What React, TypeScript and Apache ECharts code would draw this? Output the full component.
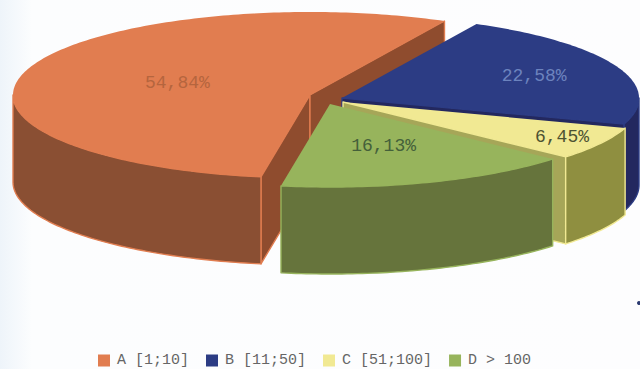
import React, { useEffect, useRef } from "react";
import * as echarts from "echarts";

// Share of each size class, in percent, clockwise from the front of the pie.
const classNames = ["A [1;10]", "B [11;50]", "C [51;100]", "D > 100"];
const shares = [54.84, 22.58, 6.45, 16.13];

const topColors = ["#E17D50", "#2C3C84", "#F1E993", "#97B45C"];
const curveColors = ["#8A4F33", "#23285F", "#8F8F40", "#66743C"];
const wallColors = ["#8F4C2E", "#23285F", "#A6A658", "#66743C"];
const labelColors = ["#B5653E", "#6C83BE", "#4C5232", "#44603A"];

// Pie projection and how far each wedge is pulled out of the pie.
const RX = 297;
const RY = 83;
const DEPTH = 87;
const START_ANGLE = 260.5;
const centers = [
  [310, 95],
  [342, 98],
  [343, 102],
  [330, 104],
];
const labelRadius = [0.47, 0.7, 0.85, 0.54];

const rad = (d: number) => (d * Math.PI) / 180;

function rim(cx: number, cy: number, deg: number, drop = 0): number[] {
  return [cx + RX * Math.cos(rad(deg)), cy - RY * Math.sin(rad(deg)) + drop];
}

function arcPoints(cx: number, cy: number, from: number, to: number, drop = 0) {
  const steps = Math.max(2, Math.ceil(Math.abs(from - to)));
  const pts: number[][] = [];
  for (let i = 0; i <= steps; i++) {
    pts.push(rim(cx, cy, from + ((to - from) * i) / steps, drop));
  }
  return pts;
}

function renderWedge(index: number, api: any) {
  const total = shares.reduce((a, b) => a + b, 0);
  const before = shares.slice(0, index).reduce((a, b) => a + b, 0);
  const a0 = START_ANGLE - (before / total) * 360;
  const a1 = a0 - (api.value(0) / total) * 360;
  const [cx, cy] = centers[index];
  const edge = { stroke: topColors[index], lineWidth: 1.4, lineJoin: "round" };
  const children: any[] = [];

  // Radial cut faces, only those that look towards the viewer.
  const wall = (deg: number) => {
    const p = rim(cx, cy, deg);
    children.push({
      type: "polygon",
      shape: { points: [[cx, cy], p, [p[0], p[1] + DEPTH], [cx, cy + DEPTH]] },
      style: { fill: wallColors[index], ...edge },
    });
  };
  if (Math.cos(rad(a0)) < 0) wall(a0);
  if (Math.cos(rad(a1)) > 0) wall(a1);

  // Outer curved side: the part of the rim on the front half of the ellipse.
  const norm = (d: number) => d - 360 * Math.floor(d / 360);
  const spans: number[][] = [];
  for (let k = -1; k <= 1; k++) {
    const hi = Math.min(a0, 360 + 360 * k);
    const lo = Math.max(a1, 180 + 360 * k);
    if (hi > lo) spans.push([hi, lo]);
  }
  for (const [hi, lo] of spans) {
    if (norm((hi + lo) / 2) < 180) continue;
    children.push({
      type: "polygon",
      shape: {
        points: [
          ...arcPoints(cx, cy, hi, lo),
          ...arcPoints(cx, cy, lo, hi, DEPTH),
        ],
      },
      style: { fill: curveColors[index], ...edge },
    });
  }

  // Top face.
  children.push({
    type: "polygon",
    shape: { points: [[cx, cy], ...arcPoints(cx, cy, a0, a1)] },
    style: { fill: topColors[index] },
  });

  // Percentage label, placed along the bisector of the wedge.
  const mid = (a0 + a1) / 2;
  const f = labelRadius[index];
  children.push({
    type: "text",
    style: {
      text: api.value(0).toFixed(2).replace(".", ",") + "%",
      x: cx + RX * f * Math.cos(rad(mid)),
      y: cy - RY * f * Math.sin(rad(mid)),
      fill: labelColors[index],
      font: '18px "Liberation Mono"',
      align: "center",
      verticalAlign: "middle",
    },
  });

  return { type: "group", children };
}

export default function App() {
  const ref = useRef<HTMLDivElement>(null);

  useEffect(() => {
    const chart = echarts.init(ref.current!, null, { renderer: "svg" });
    chart.setOption({
      animation: false,
      backgroundColor: new echarts.graphic.LinearGradient(0, 0, 1, 0, [
        { offset: 0, color: "#EEF4FA" },
        { offset: 0.05, color: "#FCFDFE" },
        { offset: 1, color: "#FDFDFE" },
      ]),
      legend: {
        left: 98,
        top: 353,
        padding: 0,
        itemWidth: 12,
        itemHeight: 12,
        itemGap: 17,
        icon: "rect",
        selectedMode: false,
        data: classNames,
        textStyle: {
          fontFamily: "Liberation Mono",
          fontSize: 15,
          color: "#666666",
          padding: [0, 0, 0, 2],
        },
      },
      graphic: [
        {
          type: "circle",
          shape: { cx: 639, cy: 303, r: 2 },
          style: { fill: "#2B3A70" },
        },
      ],
      series: classNames.map((name, i) => ({
        type: "custom",
        name,
        coordinateSystem: "none",
        itemStyle: { color: topColors[i] },
        data: [[shares[i]]],
        renderItem: (_params: any, api: any) => renderWedge(i, api),
      })),
    });
    return () => chart.dispose();
  }, []);

  return (
    <div
      ref={ref}
      style={{ position: "absolute", left: 0, top: 0, width: 640, height: 369 }}
    />
  );
}
